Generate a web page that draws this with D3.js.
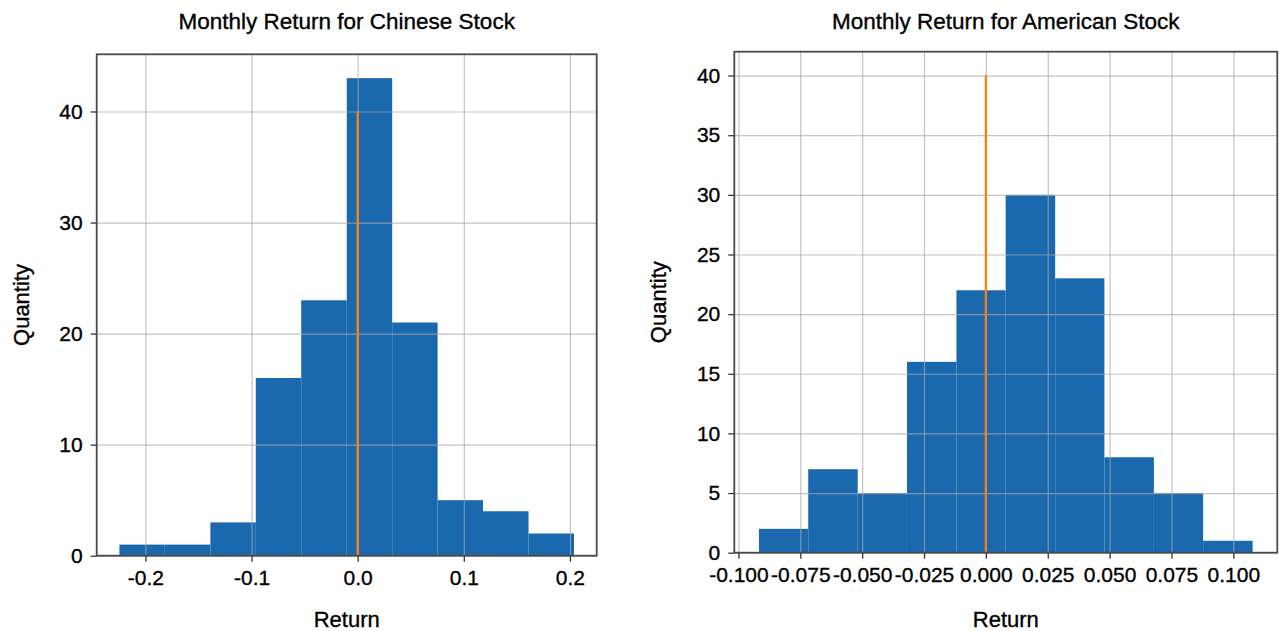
<!DOCTYPE html>
<html>
<head>
<meta charset="utf-8">
<script src="https://cdn.jsdelivr.net/npm/d3@7"></script>
<style>
  html, body { margin: 0; padding: 0; background: #fff; }
  svg { display: block; }
  text { font-family: "Liberation Sans", Arial, sans-serif; fill: #000; stroke: #000; stroke-width: 0.35px; }
</style>
</head>
<body>
<svg id="chart" width="1279" height="631"></svg>
<script>
// ---- Data ----
const cnTitle = "Monthly Return for Chinese Stock";
const cnEdges = [-0.2245, -0.1817, -0.1388, -0.0960, -0.0532, -0.0103, 0.0325, 0.0753, 0.1181, 0.1610, 0.2038];
const cnCounts = [1, 1, 3, 16, 23, 43, 21, 5, 4, 2];
const cnXTicks = [-0.2, -0.1, 0.0, 0.1, 0.2];
const cnXTickLabels = ["-0.2", "-0.1", "0.0", "0.1", "0.2"];
const cnYTicks = [0, 10, 20, 30, 40];

const usTitle = "Monthly Return for American Stock";
const usEdges = [-0.0917, -0.0718, -0.0518, -0.0319, -0.0119, 0.0080, 0.0280, 0.0479, 0.0679, 0.0878, 0.1078];
const usCounts = [2, 7, 5, 16, 22, 30, 23, 8, 5, 1];
const usXTicks = [-0.100, -0.075, -0.050, -0.025, 0.000, 0.025, 0.050, 0.075, 0.100];
const usXTickLabels = ["-0.100", "-0.075", "-0.050", "-0.025", "0.000", "0.025", "0.050", "0.075", "0.100"];
const usYTicks = [0, 5, 10, 15, 20, 25, 30, 35, 40];

// vertical reference line at x = 0 from 0 to 40
const refLineX = 0;
const refLineTop = 40;

const xLabel = "Return";
const yLabel = "Quantity";

// ---- Drawing ----
const svg = d3.select("#chart");

function drawPanel(cfg) {
  const { box, edges, counts, xTicks, xTickLabels, yTicks, title } = cfg;
  const lo = edges[0], hi = edges[edges.length - 1];
  const m = (hi - lo) * 0.05;
  const x = d3.scaleLinear().domain([lo - m, hi + m]).range([box.x0, box.x1]);
  const yMax = Math.max(d3.max(counts), refLineTop) * 1.05;
  const y = d3.scaleLinear().domain([0, yMax]).range([box.y1, box.y0]);

  const g = svg.append("g");

  const bins = counts.map((c, i) => ({ a: edges[i], b: edges[i + 1], c }));

  // bars
  g.selectAll("rect.bar").data(bins).join("rect")
    .attr("class", "bar")
    .attr("x", d => x(d.a))
    .attr("width", d => x(d.b) - x(d.a))
    .attr("y", d => y(d.c))
    .attr("height", d => y(0) - y(d.c))
    .attr("fill", "#1a68ae");

  // grid (drawn above bars)
  const gridX = d3.axisBottom(x).tickValues(xTicks).tickSize(-(box.y1 - box.y0)).tickFormat("");
  const gx = g.append("g").attr("transform", `translate(0,${box.y1})`).call(gridX);
  gx.select(".domain").remove();
  gx.selectAll("line").attr("stroke", "#aaaaaa").attr("stroke-opacity", 0.7).attr("stroke-width", 1.2);

  const gridY = d3.axisLeft(y).tickValues(yTicks).tickSize(-(box.x1 - box.x0)).tickFormat("");
  const gy = g.append("g").attr("transform", `translate(${box.x0},0)`).call(gridY);
  gy.select(".domain").remove();
  gy.selectAll("line").attr("stroke", "#aaaaaa").attr("stroke-opacity", 0.7).attr("stroke-width", 1.2);

  // orange reference line
  g.append("line")
    .attr("x1", x(refLineX)).attr("x2", x(refLineX))
    .attr("y1", y(0)).attr("y2", y(refLineTop))
    .attr("stroke", "#ff7f0e").attr("stroke-width", 2.3);

  // axes with ticks and labels
  const axX = d3.axisBottom(x).tickValues(xTicks)
    .tickFormat((d, i) => xTickLabels[i]).tickSize(6).tickPadding(8);
  const ax = g.append("g").attr("transform", `translate(0,${box.y1})`).call(axX);
  ax.select(".domain").remove();
  ax.selectAll("line").attr("stroke", "#333").attr("stroke-width", 1.3);
  ax.selectAll("text").attr("font-size", 21).attr("fill", "#000")
    .style("font-family", "'Liberation Sans', Arial, sans-serif");

  const axY = d3.axisLeft(y).tickValues(yTicks).tickSize(6).tickPadding(8);
  const ay = g.append("g").attr("transform", `translate(${box.x0},0)`).call(axY);
  ay.select(".domain").remove();
  ay.selectAll("line").attr("stroke", "#333").attr("stroke-width", 1.3);
  ay.selectAll("text").attr("font-size", 21).attr("fill", "#000")
    .style("font-family", "'Liberation Sans', Arial, sans-serif");

  // frame
  g.append("rect")
    .attr("x", box.x0).attr("y", box.y0)
    .attr("width", box.x1 - box.x0).attr("height", box.y1 - box.y0)
    .attr("fill", "none").attr("stroke", "#4a4a4a").attr("stroke-width", 1.8);

  const cx = (box.x0 + box.x1) / 2;
  // title
  g.append("text").attr("x", cx).attr("y", 29)
    .attr("text-anchor", "middle").attr("font-size", 22.5).text(title);
  // x label
  g.append("text").attr("x", cx).attr("y", 627)
    .attr("text-anchor", "middle").attr("font-size", 22).text(xLabel);
  // y label
  g.append("text")
    .attr("transform", `translate(${cfg.yLabelX},${(box.y0 + box.y1) / 2}) rotate(-90)`)
    .attr("text-anchor", "middle").attr("dy", "0.35em")
    .attr("font-size", 22).text(yLabel);
}

drawPanel({
  box: { x0: 96.7, x1: 596.7, y0: 54.3, y1: 555.7 },
  edges: cnEdges, counts: cnCounts,
  xTicks: cnXTicks, xTickLabels: cnXTickLabels, yTicks: cnYTicks,
  title: cnTitle, yLabelX: 21
});

drawPanel({
  box: { x0: 734.3, x1: 1277.3, y0: 51.7, y1: 552.7 },
  edges: usEdges, counts: usCounts,
  xTicks: usXTicks, xTickLabels: usXTickLabels, yTicks: usYTicks,
  title: usTitle, yLabelX: 658
});
</script>
</body>
</html>
